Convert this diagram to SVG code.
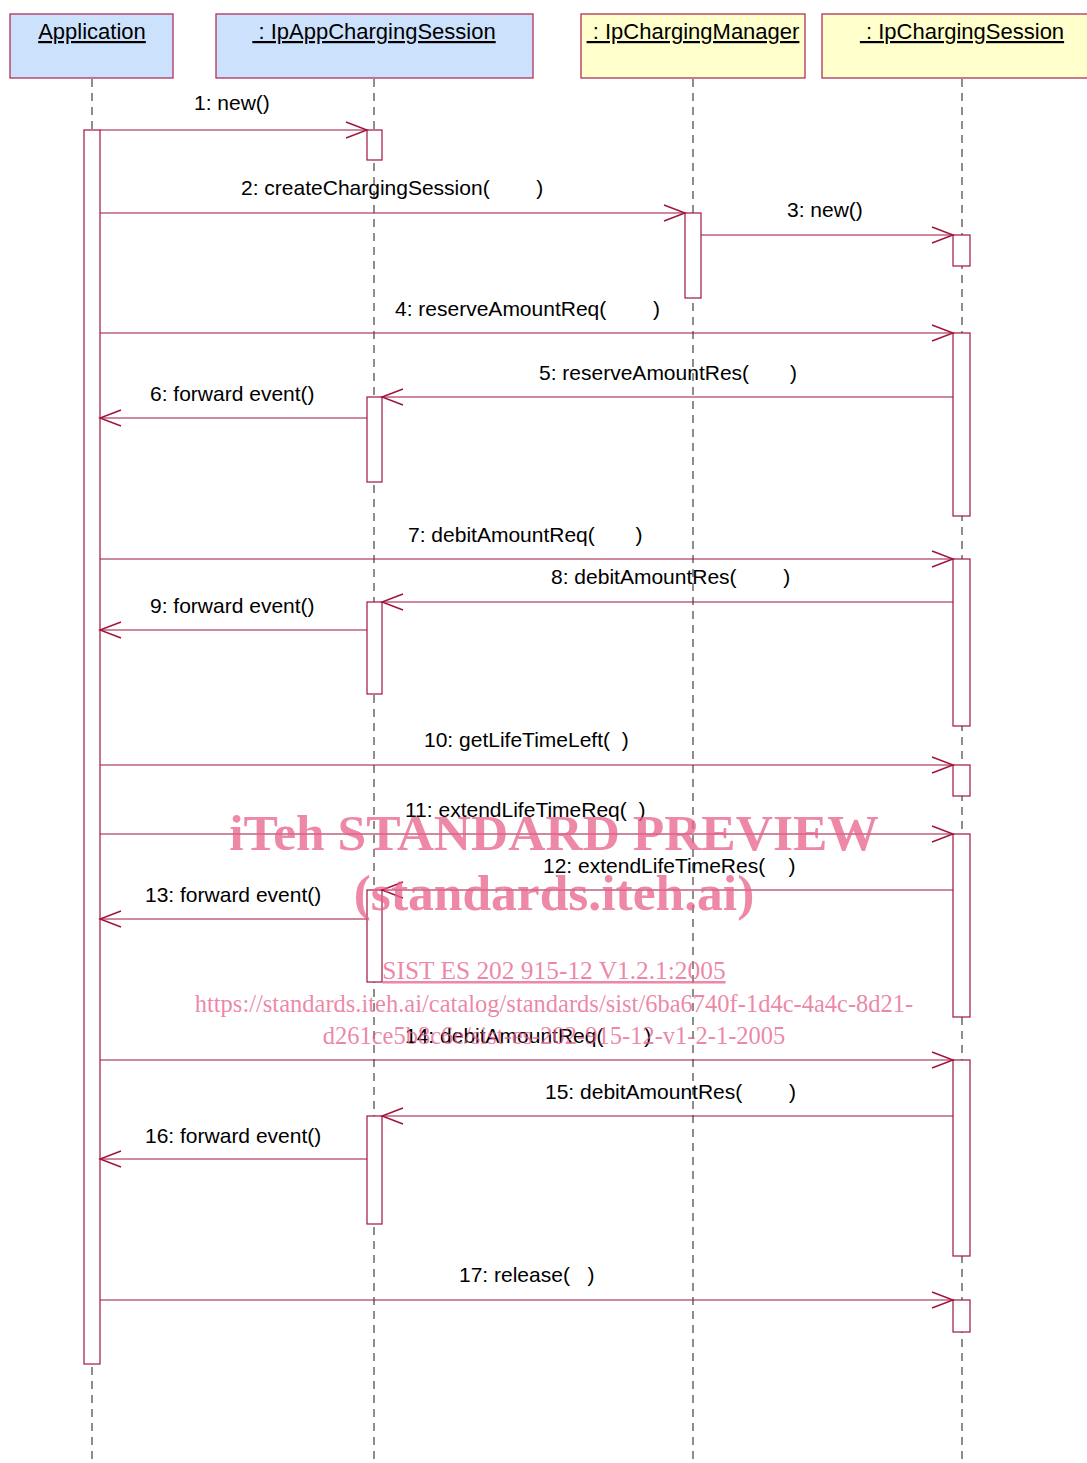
<svg xmlns="http://www.w3.org/2000/svg" width="1087" height="1463" viewBox="0 0 1087 1463">
<defs>
<style>
.box{stroke:#b0305a;stroke-width:1.3}
.blue{fill:#cce2fc}
.yel{fill:#ffffcc}
.hd{font-family:"Liberation Sans",Arial,sans-serif;font-size:22px;fill:#000;text-decoration:underline;white-space:pre}
.life{stroke:#444;stroke-width:1.2;stroke-dasharray:8,6;fill:none}
.act{fill:#fff;stroke:#a0143c;stroke-width:1.2}
.msg{stroke:#a0143c;stroke-width:1.2;fill:none}
.lbl{font-family:"Liberation Sans",Arial,sans-serif;font-size:21px;fill:#000;white-space:pre}
.wm{font-family:"Liberation Serif","Times New Roman",serif;fill:#e8608a;fill-opacity:0.75}
</style>
<marker id="open" markerWidth="24" markerHeight="20" refX="22" refY="9" orient="auto" markerUnits="userSpaceOnUse">
<path d="M1,1 L22,9 L1,17" fill="none" stroke="#a0143c" stroke-width="1.5"/>
</marker>
</defs>
<rect width="1087" height="1463" fill="#fff"/>

<g id="lifelines">
<line class="life" x1="92" y1="79" x2="92" y2="1463"/>
<line class="life" x1="374" y1="79" x2="374" y2="1463"/>
<line class="life" x1="693" y1="79" x2="693" y2="1463"/>
<line class="life" x1="962" y1="79" x2="962" y2="1463"/>
</g>

<g id="node-application">
<rect class="box blue" x="10" y="14" width="163" height="64"/>
<text class="hd" x="92" y="39" text-anchor="middle">Application</text>
</g>
<g id="node-ipappchargingsession">
<rect class="box blue" x="216" y="14" width="317" height="64"/>
<text class="hd" x="374" y="39" text-anchor="middle" xml:space="preserve"> : IpAppChargingSession</text>
</g>
<g id="node-ipchargingmanager">
<rect class="box yel" x="581" y="14" width="224" height="64"/>
<text class="hd" x="693" y="39" text-anchor="middle" xml:space="preserve"> : IpChargingManager</text>
</g>
<g id="node-ipchargingsession">
<rect class="box yel" x="822" y="14" width="270" height="64"/>
<text class="hd" x="962" y="39" text-anchor="middle" xml:space="preserve"> : IpChargingSession</text>
</g>

<g id="activations">
<rect class="act" x="84" y="130" width="16" height="1234"/>
<rect class="act" x="367" y="130" width="15" height="30"/>
<rect class="act" x="367" y="397" width="15" height="85"/>
<rect class="act" x="367" y="602" width="15" height="92"/>
<rect class="act" x="367" y="890" width="15" height="92"/>
<rect class="act" x="367" y="1116" width="15" height="108"/>
<rect class="act" x="685" y="213" width="16" height="85"/>
<rect class="act" x="953" y="235" width="17" height="31"/>
<rect class="act" x="953" y="333" width="17" height="183"/>
<rect class="act" x="953" y="559" width="17" height="167"/>
<rect class="act" x="953" y="765" width="17" height="31"/>
<rect class="act" x="953" y="834" width="17" height="183"/>
<rect class="act" x="953" y="1060" width="17" height="196"/>
<rect class="act" x="953" y="1300" width="17" height="32"/>
</g>

<g id="connectors">
<line class="msg" x1="100" y1="130" x2="367" y2="130" marker-end="url(#open)"/>
<line class="msg" x1="100" y1="213" x2="685" y2="213" marker-end="url(#open)"/>
<line class="msg" x1="701" y1="235" x2="953" y2="235" marker-end="url(#open)"/>
<line class="msg" x1="100" y1="333" x2="953" y2="333" marker-end="url(#open)"/>
<line class="msg" x1="953" y1="397" x2="382" y2="397" marker-end="url(#open)"/>
<line class="msg" x1="367" y1="418" x2="100" y2="418" marker-end="url(#open)"/>
<line class="msg" x1="100" y1="559" x2="953" y2="559" marker-end="url(#open)"/>
<line class="msg" x1="953" y1="602" x2="382" y2="602" marker-end="url(#open)"/>
<line class="msg" x1="367" y1="630" x2="100" y2="630" marker-end="url(#open)"/>
<line class="msg" x1="100" y1="765" x2="953" y2="765" marker-end="url(#open)"/>
<line class="msg" x1="100" y1="834" x2="953" y2="834" marker-end="url(#open)"/>
<line class="msg" x1="953" y1="890" x2="382" y2="890" marker-end="url(#open)"/>
<line class="msg" x1="367" y1="919" x2="100" y2="919" marker-end="url(#open)"/>
<line class="msg" x1="100" y1="1060" x2="953" y2="1060" marker-end="url(#open)"/>
<line class="msg" x1="953" y1="1116" x2="382" y2="1116" marker-end="url(#open)"/>
<line class="msg" x1="367" y1="1159" x2="100" y2="1159" marker-end="url(#open)"/>
<line class="msg" x1="100" y1="1300" x2="953" y2="1300" marker-end="url(#open)"/>
</g>

<g id="labels">
<text class="lbl" x="194" y="110" xml:space="preserve">1: new()</text>
<text class="lbl" x="241" y="195" xml:space="preserve">2: createChargingSession(        )</text>
<text class="lbl" x="787" y="217" xml:space="preserve">3: new()</text>
<text class="lbl" x="395" y="316" xml:space="preserve">4: reserveAmountReq(        )</text>
<text class="lbl" x="539" y="380" xml:space="preserve">5: reserveAmountRes(       )</text>
<text class="lbl" x="150" y="401" xml:space="preserve">6: forward event()</text>
<text class="lbl" x="408" y="542" xml:space="preserve">7: debitAmountReq(       )</text>
<text class="lbl" x="551" y="584" xml:space="preserve">8: debitAmountRes(        )</text>
<text class="lbl" x="150" y="613" xml:space="preserve">9: forward event()</text>
<text class="lbl" x="424" y="747" xml:space="preserve">10: getLifeTimeLeft(  )</text>
<text class="lbl" x="405" y="817" xml:space="preserve">11: extendLifeTimeReq(  )</text>
<text class="lbl" x="543" y="873" xml:space="preserve">12: extendLifeTimeRes(    )</text>
<text class="lbl" x="145" y="902" xml:space="preserve">13: forward event()</text>
<text class="lbl" x="405" y="1043" xml:space="preserve">14: debitAmountReq(       )</text>
<text class="lbl" x="545" y="1099" xml:space="preserve">15: debitAmountRes(        )</text>
<text class="lbl" x="145" y="1143" xml:space="preserve">16: forward event()</text>
<text class="lbl" x="459" y="1282" xml:space="preserve">17: release(   )</text>
</g>

<g id="watermark">
<text class="wm" x="554" y="850" text-anchor="middle" font-size="51.5" font-weight="bold">iTeh STANDARD PREVIEW</text>
<text class="wm" x="554" y="910" text-anchor="middle" font-size="51.5" font-weight="bold">(standards.iteh.ai)</text>
<text class="wm" x="554" y="979" text-anchor="middle" font-size="25.4" text-decoration="underline">SIST ES 202 915-12 V1.2.1:2005</text>
<text class="wm" x="554" y="1012" text-anchor="middle" font-size="24.5">https://standards.iteh.ai/catalog/standards/sist/6ba6740f-1d4c-4a4c-8d21-</text>
<text class="wm" x="554" y="1044" text-anchor="middle" font-size="24.5">d261ce5b8c6e/sist-es-202-915-12-v1-2-1-2005</text>
</g>
</svg>
